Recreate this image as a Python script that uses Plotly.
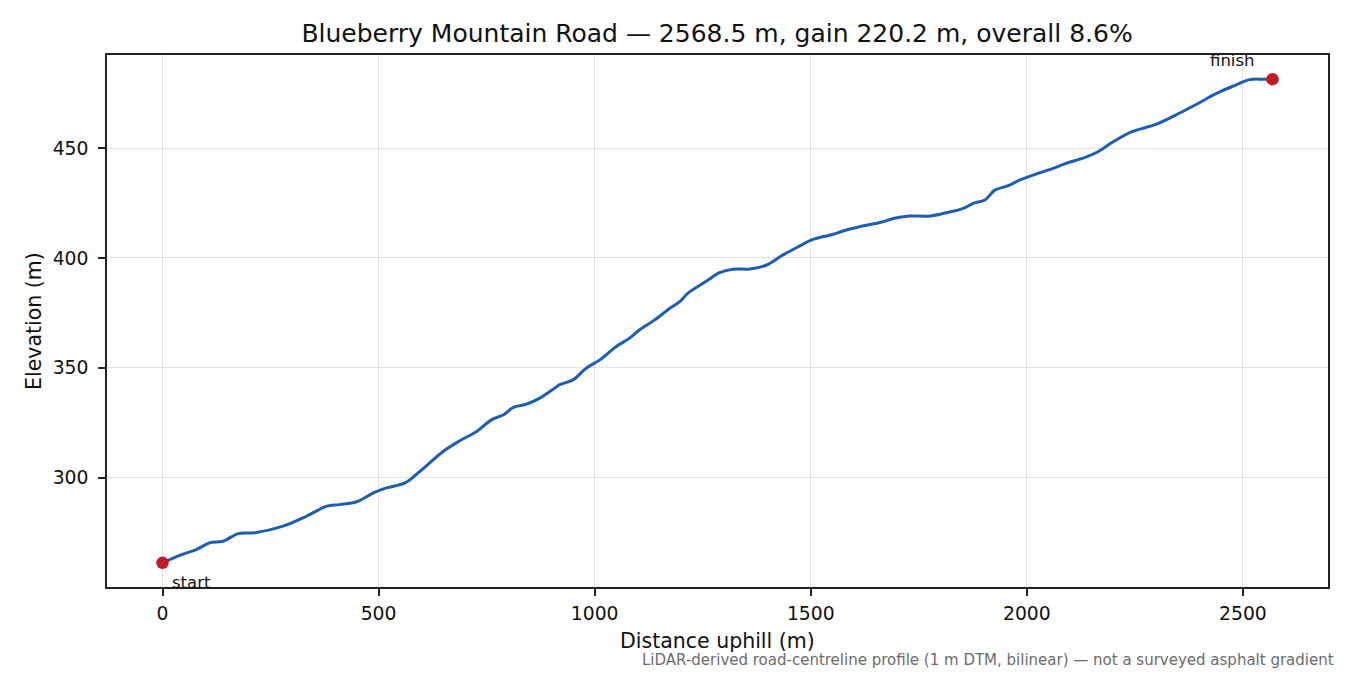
import plotly.graph_objects as go

# road profile (distance along road, elevation)
dist_m = [0, 40, 79, 109, 140, 175, 214, 279, 333, 380, 410, 449, 488, 518, 561,
          596, 650, 688, 727, 762, 789, 812, 843, 873, 908, 919, 950, 981, 1012,
          1050, 1081, 1104, 1139, 1174, 1197, 1216, 1259, 1289, 1320, 1359, 1398,
          1436, 1475, 1502, 1552, 1575, 1613, 1667, 1691, 1729, 1776, 1814, 1853,
          1876, 1903, 1926, 1957, 1984, 2030, 2061, 2084, 2138, 2161, 2200, 2242,
          2300, 2354, 2393, 2439, 2478, 2516, 2545, 2568.5]
elev_m = [261.2, 264.6, 267.3, 270.3, 271.0, 274.5, 274.9, 277.9, 282.4, 287.0,
          287.7, 289.0, 293.0, 295.3, 297.6, 302.9, 312.0, 316.8, 321.0, 326.4,
          328.6, 332.0, 333.5, 336.2, 340.8, 342.3, 344.5, 349.9, 353.6, 359.7,
          363.5, 367.3, 371.8, 377.1, 380.1, 384.0, 389.5, 393.3, 394.9, 395.0,
          396.8, 401.4, 405.5, 408.2, 410.8, 412.3, 414.2, 416.5, 418.0, 419.1,
          419.1, 420.6, 422.6, 424.9, 426.4, 430.9, 432.9, 435.5, 438.8, 440.8,
          442.6, 446.0, 448.0, 452.9, 457.4, 460.9, 466.0, 470.0, 474.9, 478.3,
          481.2, 481.4, 481.4]

x_ticks = [0, 500, 1000, 1500, 2000, 2500]
y_ticks = [300, 350, 400, 450]

road = "Blueberry Mountain Road"
length = dist_m[-1]
gain = elev_m[-1] - elev_m[0]
title = f"{road} \u2014 {length:.1f} m, gain {gain:.1f} m, overall {gain / length * 100:.1f}%"
note = "LiDAR-derived road-centreline profile (1 m DTM, bilinear) \u2014 not a surveyed asphalt gradient"

pad_x = 0.05 * (dist_m[-1] - dist_m[0])
pad_y = 0.05 * (max(elev_m) - min(elev_m))

font = "DejaVu Sans"
ink = "#111"

fig = go.Figure()
fig.add_trace(go.Scatter(x=dist_m, y=elev_m, mode="lines",
                         line=dict(color="#1f5db3", width=3), line_shape="spline",
                         hoverinfo="skip"))
fig.add_trace(go.Scatter(x=[dist_m[0], dist_m[-1]], y=[elev_m[0], elev_m[-1]], mode="markers",
                         marker=dict(color="#c21a28", size=12.5), hoverinfo="skip"))

fig.add_annotation(x=dist_m[0], y=elev_m[0], text="start", showarrow=False,
                   xanchor="left", yanchor="middle", xshift=7, yshift=-20,
                   font=dict(family=font, size=16.5, color=ink))
fig.add_annotation(x=dist_m[-1], y=elev_m[-1], text="finish", showarrow=False,
                   xanchor="center", yanchor="middle", xshift=-40, yshift=19,
                   font=dict(family=font, size=16.5, color=ink))
# axis titles as annotations so they sit where the reference has them
fig.add_annotation(xref="paper", yref="paper", x=0.5, y=0, text="Distance uphill (m)",
                   showarrow=False, xanchor="center", yanchor="middle", yshift=-54,
                   font=dict(family=font, size=20.5, color=ink))
fig.add_annotation(xref="paper", yref="paper", x=0, y=0.5, text="Elevation (m)",
                   showarrow=False, xanchor="center", yanchor="middle", xshift=-73,
                   textangle=-90, font=dict(family=font, size=20.5, color=ink))
fig.add_annotation(xref="paper", yref="paper", x=1.0066, y=0, text=note,
                   showarrow=False, xanchor="right", yanchor="middle", yshift=-73,
                   font=dict(family=font, size=15, color="#6b6b6b"))

axis_style = dict(showline=True, linecolor="#222", linewidth=1.6, mirror=True,
                  ticks="outside", ticklen=7, tickwidth=1.5, tickcolor="#222",
                  showgrid=True, gridcolor="rgba(0,0,0,0.11)", gridwidth=1.3,
                  zeroline=False, tickfont=dict(family=font, size=18.75, color=ink))

# the page body adds an 8px margin at top/left, so the figure is shifted by 8px
fig.update_layout(
    width=1334, height=667,
    paper_bgcolor="white", plot_bgcolor="white",
    margin=dict(l=99, r=14, t=47, b=88),
    showlegend=False,
    title=dict(text=title, x=0.5315, xanchor="center", y=0.9625, yanchor="middle",
               font=dict(family=font, size=25, color=ink)),
    xaxis=dict(axis_style, range=[dist_m[0] - pad_x, dist_m[-1] + pad_x], tickvals=x_ticks,
               ticklabelstandoff=2),
    yaxis=dict(axis_style, range=[min(elev_m) - pad_y, max(elev_m) + pad_y], tickvals=y_ticks,
               ticklabelstandoff=6),
)

fig.write_html("out.html")
